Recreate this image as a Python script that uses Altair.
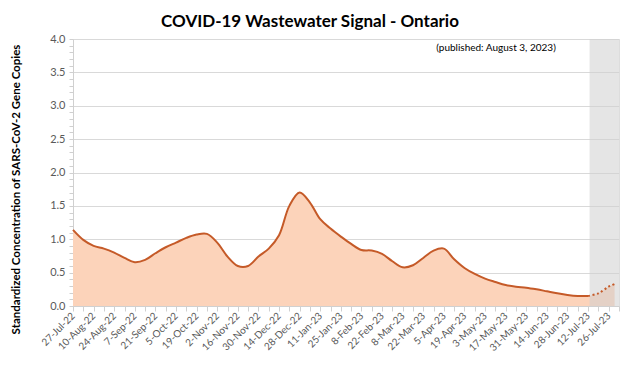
import json
import altair as alt
import pandas as pd

# ---- data ----
start = "2022-07-27"
# weekly values, 27-Jul-22 .. 12-Jul-23 (solid line)
solid_values = [1.14, 0.99, 0.90, 0.86, 0.80, 0.72, 0.655, 0.69, 0.79, 0.88,
                0.95, 1.02, 1.07, 1.08, 0.95, 0.74, 0.60, 0.60, 0.74, 0.86,
                1.06, 1.50, 1.70, 1.55, 1.30, 1.16, 1.04, 0.93, 0.84, 0.83,
                0.78, 0.67, 0.58, 0.61, 0.72, 0.83, 0.86, 0.70, 0.57, 0.48,
                0.41, 0.36, 0.315, 0.29, 0.275, 0.25, 0.22, 0.19, 0.165, 0.15,
                0.15]
# provisional (dotted) values
dotted_dates = ["2023-07-12", "2023-07-19", "2023-07-26", "2023-07-30"]
dotted_values = [0.15, 0.19, 0.29, 0.33]

tick_labels = ["27-Jul-22", "10-Aug-22", "24-Aug-22", "7-Sep-22", "21-Sep-22",
               "5-Oct-22", "19-Oct-22", "2-Nov-22", "16-Nov-22", "30-Nov-22",
               "14-Dec-22", "28-Dec-22", "11-Jan-23", "25-Jan-23", "8-Feb-23",
               "22-Feb-23", "8-Mar-23", "22-Mar-23", "5-Apr-23", "19-Apr-23",
               "3-May-23", "17-May-23", "31-May-23", "14-Jun-23", "28-Jun-23",
               "12-Jul-23", "26-Jul-23"]

band_start = "2023-07-13"
domain_end = "2023-08-02"

# ---- build tables ----
solid_dates = [d.strftime("%Y-%m-%d") for d in
               pd.date_range(start, periods=len(solid_values), freq="7D")]
solid_df = pd.DataFrame({"date": solid_dates, "value": solid_values})
dotted_df = pd.DataFrame({"date": dotted_dates, "value": dotted_values})
area_df = pd.concat([solid_df, dotted_df.iloc[1:]], ignore_index=True)
band_df = pd.DataFrame({"date": [band_start], "date2": [domain_end],
                        "value": [0.0], "value2": [4.0]})

WEEK = 7 * 24 * 3600 * 1000
t0 = int(pd.Timestamp(start, tz="UTC").value // 10**6)
tick_vals = [t0 + i * WEEK for i in range(54)]
t_end = int(pd.Timestamp(domain_end, tz="UTC").value // 10**6)

FONT = "Lato"
GRAY_TXT = "#595959"
AXIS_COL = "#d0d0d0"
INTERP = "catmull-rom"

label_expr = (f"(round((datum.value-{t0})/{WEEK}) % 2 == 0) ? "
              f"{json.dumps(tick_labels)}[round((datum.value-{t0})/{WEEK})/2] : ''")

x_axis = alt.Axis(values=tick_vals, labelExpr=label_expr, title=None,
                  grid=False, labelAngle=-45, labelAlign="right",
                  labelBaseline="middle", labelPadding=3,
                  labelFontSize=10, labelColor=GRAY_TXT, labelFont=FONT,
                  domainColor=AXIS_COL, tickColor=AXIS_COL, tickSize=5,
                  labelOverlap=False, labelFlush=False, labelBound=False)
x_scale = alt.Scale(type="utc", domain=[t0, t_end])

major = "abs(datum.value*2 - round(datum.value*2)) < 0.001"
y_axis = alt.Axis(values=[round(i * 0.1, 1) for i in range(41)],
                  labelExpr=f"{major} ? format(datum.value, '.1f') : ''",
                  title="Standardized Concentration of SARS-CoV-2 Gene Copies",
                  titleFont=FONT, titleFontSize=11.5, titleFontWeight="bold",
                  titleColor="black", titleAngle=-90, titleX=-57, titleY=150,
                  titleAlign="center", titleBaseline="middle",
                  grid=True, gridColor="#d9d9d9",
                  gridOpacity={"condition": {"test": major, "value": 1}, "value": 0},
                  labelFontSize=11, labelColor=GRAY_TXT, labelFont=FONT,
                  labelPadding=4,
                  domainColor=AXIS_COL, tickColor=AXIS_COL, tickSize=4,
                  labelOverlap=False, labelBound=False)
y_scale = alt.Scale(domain=[0, 4], nice=False)


def X(field):
    return alt.X(f"{field}:T", scale=x_scale, axis=x_axis)


def Y(field):
    return alt.Y(f"{field}:Q", scale=y_scale, axis=y_axis)


area = alt.Chart(area_df).mark_area(color="#FCD3BA", interpolate=INTERP).encode(
    x=X("date"), y=Y("value"))

band = alt.Chart(band_df).mark_rect(color="#cfcfcf", opacity=0.55).encode(
    x=X("date"), x2="date2:T", y=Y("value"), y2="value2:Q")

line_solid = alt.Chart(solid_df).mark_line(
    color="#C55A28", strokeWidth=2, interpolate=INTERP).encode(
    x=X("date"), y=Y("value"))

line_dot = alt.Chart(dotted_df).mark_line(
    color="#C55A28", strokeWidth=2, strokeDash=[2, 2.5], interpolate=INTERP).encode(
    x=X("date"), y=Y("value"))

note = alt.Chart(pd.DataFrame({"t": ["(published: August 3, 2023)"]})).mark_text(
    font=FONT, fontSize=10, color="black", align="center", baseline="middle").encode(
    text="t:N", x=alt.value(423), y=alt.value(9))

chart = alt.layer(area, band, line_solid, line_dot, note).properties(
    width=546, height=267,
    title=alt.TitleParams("COVID-19 Wastewater Signal - Ontario", font=FONT,
                          fontSize=17, fontWeight="bold", color="black",
                          anchor="middle", dx=-36, offset=2),
    autosize=alt.AutoSizeParams(type="none"),
    padding={"left": 65, "top": 31, "right": 1, "bottom": 54},
).configure_view(stroke=None).configure(background="white")

chart.save("out.html", embed_options={"renderer": "svg", "actions": False})
